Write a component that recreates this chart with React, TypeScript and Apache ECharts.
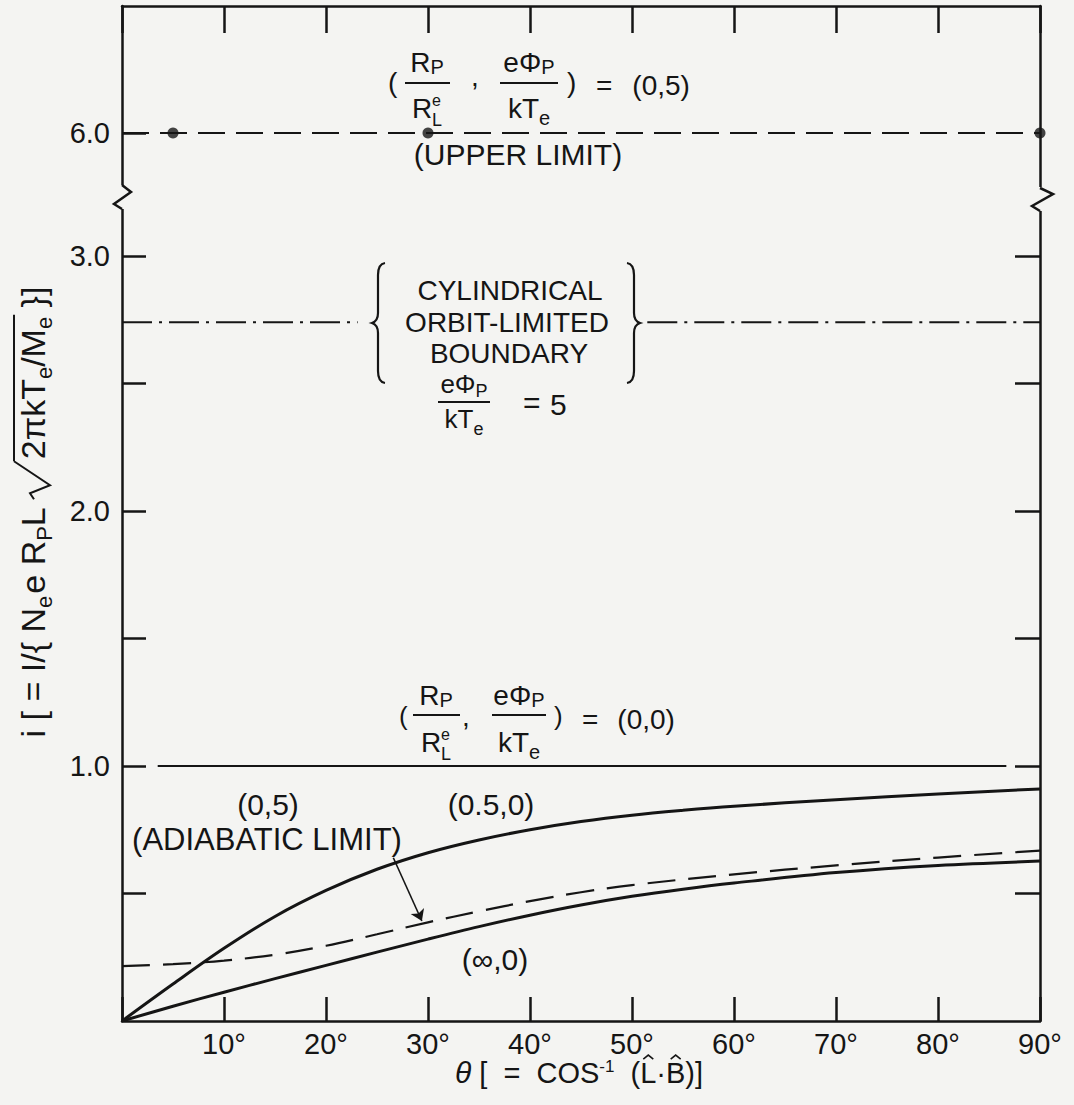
import React, { useEffect, useRef } from "react";
import * as echarts from "echarts";

// ---------------- data ----------------
const yTickValues = [0.5, 1.0, 1.5, 2.0, 2.5, 3.0];
const yLabelValues = [1.0, 2.0, 3.0];
const UPPER_LIMIT = 6.0; // drawn above the axis break
const BREAK_POS = 3.482; // axis position used for 6.0 above the break

const upperLimitTheta = [0, 90];
const upperLimitDotsTheta = [5, 30, 90];

const cylBoundary = 2.74;
const cylLeftTheta = [0, 23.1];
const cylRightTheta = [51.5, 90];

const ref00Theta = [3.5, 86.7];
const ref00Value = 1.0;

// (0.5,0)
const thetaA = [0, 5, 10, 15, 20, 25, 30, 35, 40, 45, 50, 55, 60, 70, 80, 90];
const curve05_0 = [0, 0.145, 0.285, 0.41, 0.512, 0.595, 0.66, 0.71, 0.75, 0.782, 0.807, 0.826, 0.842, 0.868, 0.89, 0.91];

// (0,5) adiabatic limit (dashed)
const thetaB = [0, 5, 10, 15, 20, 25, 30, 35, 40, 45, 50, 60, 70, 80, 90];
const adiabatic05 = [0.215, 0.223, 0.237, 0.26, 0.295, 0.34, 0.387, 0.43, 0.47, 0.505, 0.533, 0.575, 0.61, 0.641, 0.668];

// (inf,0)
const thetaC = [0, 5, 10, 15, 20, 25, 30, 35, 40, 45, 50, 55, 60, 70, 80, 90];
const curveInf0 = [0, 0.058, 0.113, 0.166, 0.218, 0.27, 0.321, 0.37, 0.415, 0.455, 0.489, 0.517, 0.541, 0.582, 0.61, 0.627];

const arrowFrom = [26.6, 0.64];
const arrowTo = [29.4, 0.392];

// ---------------- style ----------------
const INK = "#151515";
const BG = "#f4f4f2";
const FONT = '"Liberation Sans", Arial, Helvetica, sans-serif';
const K = 0.3465; // central-baseline offset
const Y_MAX = 3.98;

const toAxis = (v: number) => (v >= UPPER_LIMIT ? BREAK_POS + (v - UPPER_LIMIT) : v);

const BRACE_D = "M13 0 Q6 1 6 12 L6 50 Q6 58 0 60 Q6 62 6 70 L6 108 Q6 119 13 120";
let braceRegistered = false;
function registerBrace() {
  if (braceRegistered) return;
  echarts.graphic.registerShape("brace", echarts.graphic.extendPath(BRACE_D, {}) as any);
  braceRegistered = true;
}

let _ctx: CanvasRenderingContext2D | null = null;
function tw(t: string, s: number, it = false) {
  if (!_ctx) _ctx = document.createElement("canvas").getContext("2d");
  _ctx!.font = `${it ? "italic " : ""}${s}px ${FONT}`;
  return _ctx!.measureText(t).width;
}

type Run = { t?: string; s?: number; dy?: number; it?: boolean; stack?: boolean; hat?: boolean; gap?: number; rad?: number; olEnd?: boolean };

function txtEl(t: string, x: number, base: number, s: number, it = false, align = "left") {
  return {
    type: "text",
    x,
    y: base - K * s,
    silent: true,
    style: { text: t, fontSize: s, fontFamily: FONT, fontStyle: it ? "italic" : "normal", fill: INK, align, verticalAlign: "middle" },
  };
}

function layout(runs: Run[], x: number, base: number, align: "left" | "center" | "right") {
  const ws = runs.map((r) => (r.rad ? r.rad : tw(r.t as string, r.s as number, r.it)));
  let total = 0;
  runs.forEach((r, i) => {
    total += (r.gap || 0) + (r.stack ? 0 : ws[i]);
  });
  let cx = align === "left" ? x : align === "center" ? x - total / 2 : x - total;
  const els: any[] = [];
  let olStart: number | null = null;
  let olY = 0;
  runs.forEach((r, i) => {
    cx += r.gap || 0;
    const b = base + (r.dy || 0);
    if (r.rad) {
      const w = r.rad;
      const top = base - 31;
      els.push({
        type: "polyline",
        silent: true,
        shape: { points: [[cx, base - 11], [cx + 6, base - 15], [cx + 14, base + 5], [cx + w, top]] },
        style: { stroke: INK, lineWidth: 2, fill: "none" },
      });
      olStart = cx + w;
      olY = top;
    } else {
      els.push(txtEl(r.t as string, cx, b, r.s as number, r.it));
      if (r.hat) {
        const hc = cx + ws[i] / 2;
        const top = b - 0.72 * (r.s as number) - 3;
        els.push({
          type: "polyline",
          silent: true,
          shape: { points: [[hc - 5, top], [hc, top - 4], [hc + 5, top]] },
          style: { stroke: INK, lineWidth: 1.6, fill: "none" },
        });
      }
    }
    if (!r.stack) cx += ws[i];
    if (r.olEnd && olStart !== null) {
      els.push({ type: "line", silent: true, shape: { x1: olStart, y1: olY, x2: cx + 2, y2: olY }, style: { stroke: INK, lineWidth: 2 } });
      olStart = null;
    }
  });
  return { els, end: cx, total };
}

function bar(x1: number, x2: number, y: number) {
  return { type: "line", silent: true, shape: { x1, y1: y, x2, y2: y }, style: { stroke: INK, lineWidth: 2 } };
}

function frac(num: Run[], den: Run[], cx: number, barY: number, bx1: number, bx2: number, numBase: number, denBase: number) {
  return [...layout(num, cx, numBase, "center").els, ...layout(den, cx, denBase, "center").els, bar(bx1, bx2, barY)];
}

const RP: Run[] = [{ t: "R", s: 28 }, { t: "P", s: 20, dy: 2 }];
const RL_E: Run[] = [{ t: "R", s: 28 }, { t: "e", s: 16, dy: -12, stack: true }, { t: "L", s: 18, dy: 8 }];
const EPHI: Run[] = [{ t: "eΦ", s: 28 }, { t: "P", s: 20, dy: 2 }];
const KTE: Run[] = [{ t: "kT", s: 28 }, { t: "e", s: 20, dy: 7 }];

function buildGraphics() {
  registerBrace();
  const els: any[] = [];

  // --- top annotation (R_P/R_L^e , eΦ_P/kT_e) = (0,5)
  els.push(txtEl("(", 388, 92, 28));
  els.push(...frac(RP, RL_E, 427, 83, 405, 450, 72, 118));
  els.push(txtEl(",", 471, 86, 28));
  els.push(...frac(EPHI, KTE, 529, 83, 500, 558, 72, 118));
  els.push(txtEl(")", 567, 92, 28));
  els.push(...layout([{ t: "=", s: 28 }, { t: "(0,5)", s: 28, gap: 20 }], 596, 95, "left").els);
  els.push(txtEl("(UPPER LIMIT)", 518, 165, 30, false, "center"));

  // --- cylindrical orbit-limited boundary block
  els.push(txtEl("CYLINDRICAL", 510, 300.5, 28, false, "center"));
  els.push(txtEl("ORBIT-LIMITED", 507, 332, 28, false, "center"));
  els.push(txtEl("BOUNDARY", 509, 363.5, 28, false, "center"));
  els.push(...frac([{ t: "eΦ", s: 26 }, { t: "P", s: 18, dy: 4 }], [{ t: "kT", s: 26 }, { t: "e", s: 18, dy: 7 }], 464, 402, 438, 490, 393, 428));
  els.push(txtEl("=", 523, 413, 30));
  els.push(txtEl("5", 550, 415, 30));
  els.push({ type: "brace", x: 372, y: 263, silent: true, style: { stroke: INK, fill: "none", lineWidth: 2.2 } });
  els.push({ type: "brace", x: 640, y: 263, scaleX: -1, silent: true, style: { stroke: INK, fill: "none", lineWidth: 2.2 } });

  // --- (0,0) annotation
  els.push(txtEl("(", 399, 725, 26));
  els.push(...frac(RP, RL_E, 436, 715, 413, 460, 705, 752));
  els.push(txtEl(",", 462, 726, 28));
  els.push(...frac(EPHI, KTE, 519, 715, 492, 546, 705, 752));
  els.push(txtEl(")", 554, 725, 26));
  els.push(...layout([{ t: "=", s: 28 }, { t: "(0,0)", s: 28, gap: 19 }], 582, 729, "left").els);

  // --- curve labels
  els.push(txtEl("(0,5)", 268, 815, 30, false, "center"));
  els.push(txtEl("(ADIABATIC LIMIT)", 267, 850, 31, false, "center"));
  els.push(txtEl("(0.5,0)", 491, 815, 30, false, "center"));
  els.push(txtEl("(∞,0)", 495, 970, 30, false, "center"));

  // --- x axis title
  els.push(
    ...layout(
      [
        { t: "θ", s: 30, it: true },
        { t: " [  =  COS", s: 29 },
        { t: "-1", s: 17, dy: -11 },
        { t: "  (", s: 29 },
        { t: "L", s: 29, hat: true },
        { t: "·", s: 29 },
        { t: "B", s: 29, hat: true },
        { t: ")]", s: 29 },
      ],
      579, 1083, "center"
    ).els
  );

  // --- y axis title (rotated)
  const yt = layout(
    [
      { t: "i [ = I/{ N", s: 34 },
      { t: "e", s: 22, dy: 7 },
      { t: "e R", s: 34, gap: 2 },
      { t: "P", s: 22, dy: 7 },
      { t: "L", s: 34 },
      { rad: 38, gap: 8 },
      { t: "2πkT", s: 34, gap: 2 },
      { t: "e", s: 22, dy: 7 },
      { t: "/M", s: 34 },
      { t: "e", s: 22, dy: 7, olEnd: true },
      { t: " }]", s: 34 },
    ],
    -512, 45, "center"
  );
  els.push({ type: "group", x: 0, y: 0, rotation: Math.PI / 2, children: yt.els });

  // --- axis breaks (zigzags)
  els.push({ type: "rect", silent: true, shape: { x: 117, y: 185, width: 10, height: 24 }, style: { fill: BG } });
  els.push({ type: "polyline", silent: true, shape: { points: [[122, 209], [114, 204], [131, 192], [122, 185]] }, style: { stroke: INK, lineWidth: 2.5, fill: "none" } });
  els.push({ type: "rect", silent: true, shape: { x: 1035, y: 187, width: 10, height: 24 }, style: { fill: BG } });
  els.push({ type: "polyline", silent: true, shape: { points: [[1040, 211], [1032, 206], [1053, 194], [1040, 188]] }, style: { stroke: INK, lineWidth: 2.5, fill: "none" } });

  return els.map((e) => ({ z: 100, ...e }));
}

export default function App() {
  const ref = useRef<HTMLDivElement>(null);
  useEffect(() => {
    document.body.style.margin = "0";
    document.body.style.background = BG;
    document.body.style.overflow = "hidden";
    const chart = echarts.init(ref.current as HTMLDivElement, null, { renderer: "svg" });
    const lineBase = { type: "line", symbol: "none", silent: true, xAxisIndex: 0, yAxisIndex: 0 };
    const axisLine = { show: true, onZero: false, lineStyle: { color: INK, width: 2.5 } };
    const labelStyle = { color: INK, fontSize: 29, fontFamily: FONT };

    chart.setOption({
      animation: false,
      backgroundColor: BG,
      grid: { left: 122, right: 34, top: 6, bottom: 84, containLabel: false },
      xAxis: [
        {
          type: "value", position: "bottom", min: 0, max: 90, interval: 10,
          axisLine,
          axisTick: { show: true, inside: true, length: 24, lineStyle: { color: INK, width: 2.5 } },
          axisLabel: { show: true, margin: 8, ...labelStyle, formatter: (v: number) => (v === 0 ? "" : `${v}°`) },
          splitLine: { show: false },
        },
        {
          type: "value", position: "top", min: 0, max: 90, interval: 10,
          axisLine,
          axisTick: { show: true, inside: true, length: 27, lineStyle: { color: INK, width: 2.5 } },
          axisLabel: { show: false },
          splitLine: { show: false },
        },
      ],
      yAxis: [
        {
          type: "value", position: "left", min: 0, max: Y_MAX,
          axisLine,
          axisTick: { show: true, inside: true, length: 24, lineStyle: { color: INK, width: 2.5 }, customValues: [...yTickValues, BREAK_POS] },
          axisLabel: {
            show: true, margin: 12, ...labelStyle,
            customValues: [...yLabelValues, BREAK_POS],
            formatter: (v: number) => (Math.abs(v - BREAK_POS) < 1e-6 ? UPPER_LIMIT.toFixed(1) : v.toFixed(1)),
          },
          splitLine: { show: false },
        },
        {
          type: "value", position: "right", min: 0, max: Y_MAX,
          axisLine,
          axisTick: { show: true, inside: true, length: 25, lineStyle: { color: INK, width: 2.5 }, customValues: yTickValues },
          axisLabel: { show: false },
          splitLine: { show: false },
        },
      ],
      series: [
        { ...lineBase, name: "upper limit (0,5)", data: upperLimitTheta.map((t) => [t, toAxis(UPPER_LIMIT)]), lineStyle: { color: INK, width: 2.2, type: [27, 11] } },
        { type: "scatter", silent: true, clip: false, data: upperLimitDotsTheta.map((t) => [t, toAxis(UPPER_LIMIT)]), symbolSize: 11, itemStyle: { color: INK } },
        { ...lineBase, name: "cyl-left", data: cylLeftTheta.map((t) => [t, cylBoundary]), lineStyle: { color: INK, width: 2.2, type: [30, 7, 3, 7] } },
        { ...lineBase, name: "cyl-right", data: cylRightTheta.map((t) => [t, cylBoundary]), lineStyle: { color: INK, width: 2.2, type: [30, 7, 3, 7] } },
        { ...lineBase, name: "(0,0)", data: ref00Theta.map((t) => [t, ref00Value]), lineStyle: { color: INK, width: 2 } },
        { ...lineBase, name: "(0.5,0)", smooth: 0.35, data: thetaA.map((t, i) => [t, curve05_0[i]]), lineStyle: { color: INK, width: 3 } },
        {
          ...lineBase, name: "(0,5) adiabatic", smooth: 0.35, data: thetaB.map((t, i) => [t, adiabatic05[i]]),
          lineStyle: { color: INK, width: 2.2, type: [28, 13] },
          markLine: {
            silent: true, symbol: ["none", "arrow"], symbolSize: 11, animation: false,
            lineStyle: { type: "solid", color: INK, width: 1.6 }, label: { show: false },
            data: [[{ coord: arrowFrom }, { coord: arrowTo }]],
          },
        },
        { ...lineBase, name: "(inf,0)", smooth: 0.35, data: thetaC.map((t, i) => [t, curveInf0[i]]), lineStyle: { color: INK, width: 3 } },
      ],
      graphic: { elements: buildGraphics() },
    });
    return () => chart.dispose();
  }, []);
  return <div ref={ref} style={{ width: 1074, height: 1105 }} />;
}
